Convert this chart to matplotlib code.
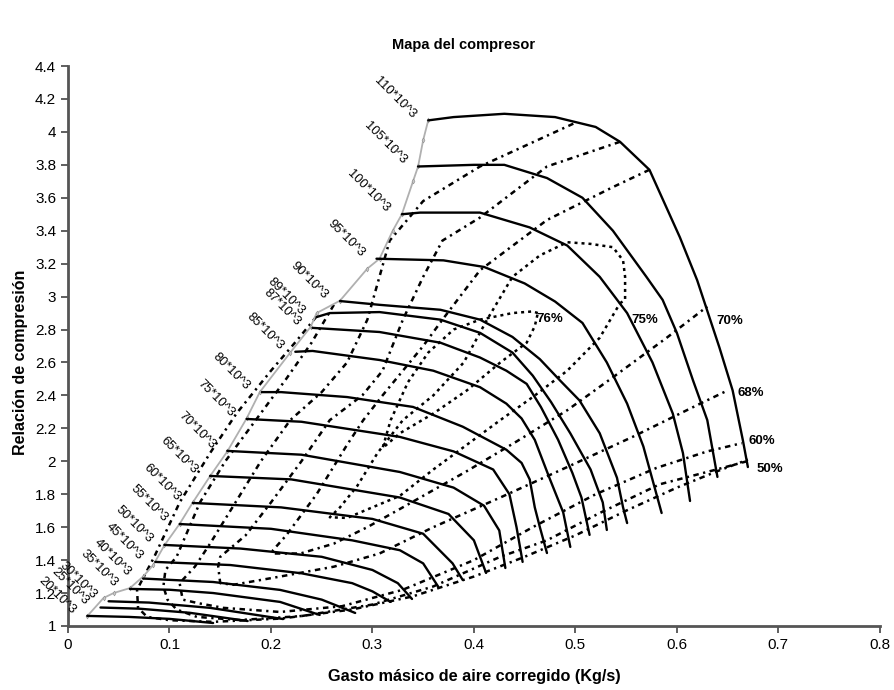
import numpy as np
import matplotlib
matplotlib.use("Agg")
import matplotlib.pyplot as plt

plt.rcParams['font.family'] = ['Liberation Sans', 'DejaVu Sans']

# speed lines (rpm)
speed_labels = ['20*10^3', '25*10^3', '30*10^3', '35*10^3', '40*10^3', '45*10^3', '50*10^3',
                '55*10^3', '60*10^3', '65*10^3', '70*10^3', '75*10^3', '80*10^3', '85*10^3',
                '87*10^3', '89*10^3', '90*10^3', '95*10^3', '100*10^3', '105*10^3', '110*10^3']

speed_x = [
    [0.019, 0.06, 0.10, 0.143],
    [0.032, 0.07, 0.12, 0.177],
    [0.040, 0.08, 0.14, 0.212],
    [0.061, 0.10, 0.143, 0.209, 0.248],
    [0.074, 0.143, 0.209, 0.25, 0.283],
    [0.086, 0.16, 0.23, 0.28, 0.30, 0.318],
    [0.095, 0.17, 0.25, 0.30, 0.325, 0.339],
    [0.110, 0.20, 0.28, 0.327, 0.35, 0.365],
    [0.123, 0.21, 0.30, 0.35, 0.379, 0.389],
    [0.140, 0.22, 0.327, 0.375, 0.40, 0.412],
    [0.157, 0.23, 0.327, 0.38, 0.41, 0.425, 0.431],
    [0.176, 0.23, 0.327, 0.38, 0.419, 0.435, 0.442, 0.448],
    [0.191, 0.21, 0.275, 0.34, 0.389, 0.432, 0.447, 0.455, 0.460, 0.465, 0.472],
    [0.224, 0.241, 0.307, 0.36, 0.406, 0.432, 0.447, 0.460, 0.475, 0.488, 0.495],
    [0.241, 0.307, 0.367, 0.406, 0.432, 0.452, 0.466, 0.483, 0.497, 0.506, 0.514],
    [0.245, 0.258, 0.307, 0.367, 0.406, 0.438, 0.458, 0.476, 0.495, 0.515, 0.527, 0.531],
    [0.268, 0.307, 0.367, 0.406, 0.438, 0.465, 0.485, 0.504, 0.524, 0.541, 0.547, 0.551],
    [0.304, 0.37, 0.41, 0.45, 0.48, 0.507, 0.531, 0.551, 0.567, 0.585],
    [0.329, 0.347, 0.406, 0.455, 0.492, 0.524, 0.551, 0.576, 0.596, 0.606, 0.613],
    [0.345, 0.40, 0.43, 0.472, 0.507, 0.537, 0.570, 0.586, 0.600, 0.616, 0.630, 0.640],
    [0.355, 0.38, 0.43, 0.48, 0.52, 0.544, 0.573, 0.603, 0.620, 0.642, 0.655, 0.665, 0.670],
]
speed_y = [
    [1.061, 1.055, 1.043, 1.018],
    [1.112, 1.105, 1.08, 1.030],
    [1.150, 1.142, 1.11, 1.042],
    [1.225, 1.22, 1.20, 1.146, 1.067],
    [1.288, 1.267, 1.219, 1.16, 1.079],
    [1.389, 1.37, 1.32, 1.26, 1.21, 1.146],
    [1.492, 1.47, 1.42, 1.34, 1.26, 1.164],
    [1.619, 1.59, 1.52, 1.46, 1.38, 1.237],
    [1.747, 1.72, 1.65, 1.56, 1.38, 1.279],
    [1.911, 1.89, 1.78, 1.68, 1.52, 1.322],
    [2.063, 2.04, 1.935, 1.84, 1.73, 1.58, 1.352],
    [2.257, 2.24, 2.148, 2.06, 1.95, 1.80, 1.60, 1.389],
    [2.42, 2.42, 2.39, 2.33, 2.21, 2.07, 1.99, 1.89, 1.72, 1.60, 1.443],
    [2.665, 2.67, 2.615, 2.55, 2.45, 2.35, 2.26, 2.13, 1.89, 1.69, 1.48],
    [2.81, 2.785, 2.72, 2.63, 2.55, 2.47, 2.33, 2.13, 1.93, 1.78, 1.553],
    [2.876, 2.90, 2.906, 2.86, 2.78, 2.66, 2.52, 2.36, 2.17, 1.95, 1.75, 1.583],
    [2.973, 2.95, 2.92, 2.86, 2.755, 2.62, 2.49, 2.37, 2.17, 1.90, 1.72, 1.625],
    [3.23, 3.22, 3.18, 3.08, 2.97, 2.84, 2.60, 2.35, 2.09, 1.686],
    [3.50, 3.51, 3.51, 3.42, 3.31, 3.12, 2.90, 2.60, 2.29, 2.05, 1.759],
    [3.79, 3.80, 3.80, 3.72, 3.60, 3.40, 3.12, 2.98, 2.78, 2.49, 2.25, 1.905],
    [4.07, 4.09, 4.11, 4.09, 4.03, 3.94, 3.77, 3.36, 3.10, 2.69, 2.43, 2.13, 1.965],
]

# surge line
surge_x = [0.019, 0.035, 0.045, 0.061, 0.074, 0.084, 0.095, 0.110, 0.123, 0.140, 0.157, 0.176,
           0.189, 0.219, 0.239, 0.245, 0.268, 0.295, 0.307, 0.320, 0.329, 0.340, 0.345, 0.350, 0.355]
surge_y = [1.06, 1.17, 1.20, 1.23, 1.30, 1.37, 1.49, 1.62, 1.75, 1.91, 2.06, 2.26,
           2.42, 2.66, 2.815, 2.90, 2.975, 3.17, 3.23, 3.40, 3.50, 3.70, 3.79, 3.95, 4.07]

# efficiency contours
eff_labels = ['', '50%', '60%', '68%', '70%', '75%', '76%']
eff_x = [
    [0.245, 0.225, 0.20, 0.166, 0.14, 0.11, 0.085, 0.068, 0.069, 0.078, 0.100, 0.143, 0.21, 0.28,
     0.34, 0.40, 0.45, 0.50, 0.55, 0.60, 0.64, 0.670],
    [0.262, 0.240, 0.215, 0.185, 0.155, 0.13, 0.107, 0.096, 0.094, 0.098, 0.107, 0.127, 0.169, 0.23,
     0.30, 0.36, 0.426, 0.472, 0.524, 0.583, 0.639, 0.669],
    [0.498, 0.406, 0.35, 0.317, 0.295, 0.275, 0.250, 0.219, 0.19, 0.165, 0.140, 0.125, 0.110, 0.113,
     0.127, 0.153, 0.209, 0.27, 0.33, 0.40, 0.458, 0.52, 0.58, 0.630, 0.664],
    [0.544, 0.472, 0.406, 0.369, 0.350, 0.330, 0.310, 0.290, 0.258, 0.230, 0.200, 0.175, 0.150, 0.148,
     0.150, 0.163, 0.209, 0.262, 0.307, 0.360, 0.426, 0.492, 0.557, 0.623, 0.650],
    [0.573, 0.537, 0.472, 0.406, 0.369, 0.350, 0.330, 0.310, 0.291, 0.275, 0.245, 0.215, 0.202,
     0.201, 0.229, 0.262, 0.295, 0.327, 0.393, 0.442, 0.492, 0.537, 0.590, 0.630],
    [0.544, 0.549, 0.549, 0.547, 0.537, 0.515, 0.492, 0.465, 0.438, 0.413, 0.390, 0.360, 0.330, 0.305,
     0.285, 0.268, 0.258, 0.275, 0.327, 0.360, 0.393, 0.426, 0.458, 0.492, 0.524, 0.544],
    [0.463, 0.458, 0.438, 0.406, 0.38, 0.355, 0.335, 0.318, 0.310, 0.327, 0.360, 0.393, 0.426, 0.452,
     0.460, 0.463],
]
eff_y = [
    [2.88, 2.73, 2.55, 2.29, 2.05, 1.75, 1.42, 1.22, 1.11, 1.055, 1.035, 1.025, 1.045, 1.10,
     1.18, 1.30, 1.42, 1.55, 1.70, 1.84, 1.94, 2.01],
    [2.95, 2.72, 2.50, 2.25, 2.00, 1.75, 1.42, 1.34, 1.24, 1.16, 1.10, 1.055, 1.036, 1.06,
     1.13, 1.24, 1.42, 1.52, 1.686, 1.86, 1.95, 2.00],
    [4.05, 3.79, 3.58, 3.34, 2.86, 2.60, 2.42, 2.25, 2.00, 1.75, 1.50, 1.36, 1.26, 1.16,
     1.14, 1.11, 1.085, 1.12, 1.22, 1.40, 1.60, 1.80, 1.96, 2.06, 2.11],
    [3.94, 3.79, 3.48, 3.34, 3.12, 2.86, 2.55, 2.40, 2.25, 2.00, 1.75, 1.55, 1.42, 1.36,
     1.26, 1.25, 1.30, 1.36, 1.44, 1.60, 1.78, 1.965, 2.15, 2.35, 2.43],
    [3.77, 3.665, 3.465, 3.16, 2.86, 2.70, 2.55, 2.40, 2.25, 2.10, 1.80, 1.55, 1.46,
     1.44, 1.44, 1.50, 1.60, 1.71, 1.94, 2.12, 2.31, 2.51, 2.75, 2.94],
    [2.96, 2.98, 3.12, 3.22, 3.30, 3.32, 3.33, 3.25, 3.12, 2.86, 2.60, 2.40, 2.25, 2.05,
     1.85, 1.72, 1.66, 1.656, 1.79, 1.95, 2.10, 2.25, 2.39, 2.55, 2.75, 2.96],
    [2.90, 2.91, 2.90, 2.86, 2.80, 2.66, 2.48, 2.25, 2.08, 2.17, 2.29, 2.43, 2.60, 2.72,
     2.82, 2.90],
]
eff_label_pos = [None, (0.679, 1.955), (0.671, 2.125), (0.660, 2.415), (0.639, 2.85),
                 (0.555, 2.86), (0.462, 2.865)]
eff_dashes = [(2.2, 1.8, 0.9, 1.8)] * 5 + [(1.2, 1.6), (1.2, 1.6)]

fig = plt.figure(figsize=(8.95, 6.9), dpi=100)
ax = fig.add_axes([0.076, 0.0928, 0.907, 0.8115])

for xs, ys, dsh in zip(eff_x, eff_y, eff_dashes):
    ax.plot(xs, ys, color='black', lw=1.8, dashes=dsh)

ax.plot(surge_x, surge_y, color='#b0b0b0', lw=1.3, marker='d', ms=2.5,
        markerfacecolor='#c8c8c8', markeredgecolor='#8c8c8c', markeredgewidth=0.4)

for xs, ys, lab in zip(speed_x, speed_y, speed_labels):
    ax.plot(xs, ys, color='black', lw=1.7, solid_capstyle='round')
    ax.annotate(lab, (xs[0], ys[0]), xytext=(-14, 4), textcoords='offset pixels',
                rotation=-45, rotation_mode='anchor', ha='right', va='center', fontsize=9.3)

for lab, pos in zip(eff_labels, eff_label_pos):
    if lab:
        ax.text(pos[0], pos[1], lab, fontsize=9.5, fontweight='bold', ha='left', va='center')

ax.set_xlim(0, 0.8)
ax.set_ylim(1, 4.4)
ax.set_xticks(np.arange(0, 0.81, 0.1))
ax.set_xticklabels(['0', '0.1', '0.2', '0.3', '0.4', '0.5', '0.6', '0.7', '0.8'])
ax.set_yticks(np.arange(1, 4.41, 0.2))
ax.set_yticklabels(['1', '1.2', '1.4', '1.6', '1.8', '2', '2.2', '2.4', '2.6', '2.8', '3',
                    '3.2', '3.4', '3.6', '3.8', '4', '4.2', '4.4'])
ax.tick_params(labelsize=11, direction='out', length=5, width=1.2, color='#444444')
for s in ['top', 'right']:
    ax.spines[s].set_visible(False)
for s in ['left', 'bottom']:
    ax.spines[s].set_linewidth(2)
    ax.spines[s].set_color('#555555')

fig.text(0.518, 0.935, 'Mapa del compresor', ha='center', va='center', fontsize=10.5, fontweight='bold')
fig.text(0.5296, 0.019, 'Gasto másico de aire corregido (Kg/s)', ha='center', va='center',
         fontsize=11.7, fontweight='bold')
fig.text(0.023, 0.475, 'Relación de compresión', ha='center', va='center', rotation=90,
         fontsize=11.5, fontweight='bold')

fig.savefig('out.png', dpi=100)
